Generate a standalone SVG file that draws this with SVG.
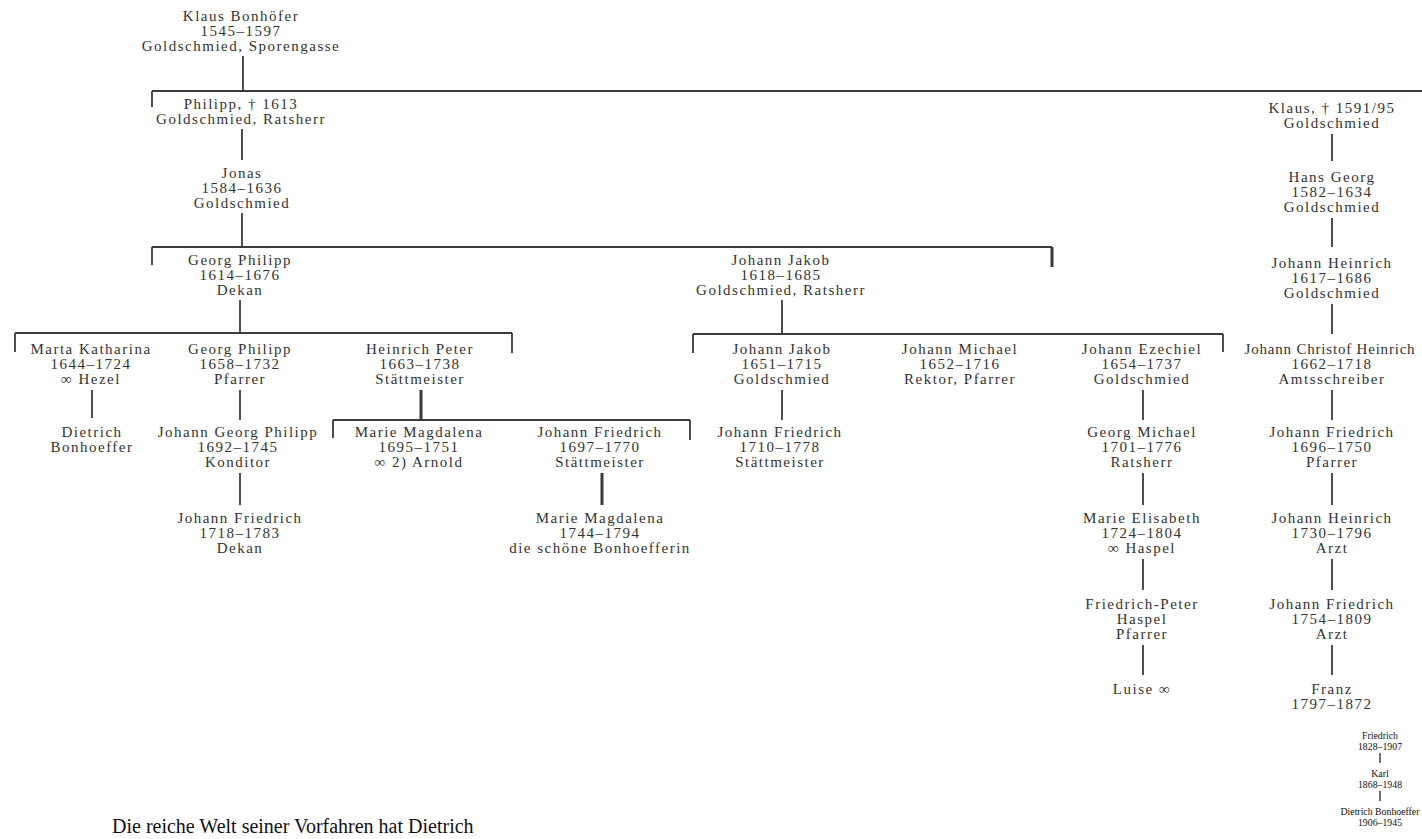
<svg xmlns="http://www.w3.org/2000/svg" width="1422" height="839" viewBox="0 0 1422 839">
<style>
.n text{font-family:"Liberation Serif","Times New Roman",serif;font-size:15px;letter-spacing:1.5px;fill:#333;text-anchor:middle}
.s text{font-family:"Liberation Serif","Times New Roman",serif;font-size:9.8px;fill:#111;text-anchor:middle}
#connectors line{stroke:#3a3a3a;stroke-width:1.8}
#connectors .t{stroke-width:3}
#connectors .s1{stroke:#111;stroke-width:1.2}
.cap{font-family:"Liberation Serif","Times New Roman",serif;font-size:20px;fill:#111}
</style>
<rect width="1422" height="839" fill="#fff"/>
<g id="connectors">
<line x1="243" y1="56" x2="243" y2="91"/>
<line x1="152" y1="91" x2="1422" y2="91"/>
<line x1="152" y1="91" x2="152" y2="107"/>
<line x1="242" y1="129" x2="242" y2="160"/>
<line x1="242" y1="213" x2="242" y2="247"/>
<line x1="152" y1="247" x2="1052" y2="247"/>
<line x1="152" y1="247" x2="152" y2="265"/>
<line class="t" x1="1052" y1="247" x2="1052" y2="267"/>
<line x1="240" y1="300" x2="240" y2="333"/>
<line x1="15" y1="333" x2="512" y2="333"/>
<line x1="15" y1="333" x2="15" y2="352"/>
<line x1="512" y1="333" x2="512" y2="353"/>
<line x1="92" y1="390" x2="92" y2="418"/>
<line x1="240" y1="390" x2="240" y2="420"/>
<line x1="240" y1="473" x2="240" y2="505"/>
<line class="t" x1="421" y1="390" x2="421" y2="420"/>
<line x1="333" y1="420" x2="690" y2="420"/>
<line x1="333" y1="420" x2="333" y2="438"/>
<line x1="690" y1="420" x2="690" y2="440"/>
<line class="t" x1="602" y1="473" x2="602" y2="505"/>
<line x1="782" y1="300" x2="782" y2="334"/>
<line x1="693" y1="334" x2="1223" y2="334"/>
<line x1="693" y1="334" x2="693" y2="353"/>
<line x1="1223" y1="334" x2="1223" y2="352"/>
<line x1="782" y1="390" x2="782" y2="420"/>
<line x1="1143" y1="390" x2="1143" y2="420"/>
<line x1="1143" y1="473" x2="1143" y2="505"/>
<line x1="1143" y1="559" x2="1143" y2="590"/>
<line x1="1143" y1="645" x2="1143" y2="675"/>
<line x1="1332" y1="134" x2="1332" y2="161"/>
<line x1="1332" y1="218" x2="1332" y2="247"/>
<line x1="1332" y1="304" x2="1332" y2="334"/>
<line x1="1332" y1="390" x2="1332" y2="420"/>
<line x1="1332" y1="473" x2="1332" y2="505"/>
<line x1="1332" y1="559" x2="1332" y2="590"/>
<line x1="1332" y1="645" x2="1332" y2="675"/>
<line class="s1" x1="1380" y1="753" x2="1380" y2="763"/>
<line class="s1" x1="1380" y1="791" x2="1380" y2="801"/>
</g>
<g id="klaus-bonhoefer" class="n"><text x="241" y="21">Klaus Bonhöfer</text><text x="241" y="36">1545–1597</text><text x="241" y="51">Goldschmied, Sporengasse</text></g>
<g id="philipp" class="n"><text x="241" y="109">Philipp, † 1613</text><text x="241" y="124">Goldschmied, Ratsherr</text></g>
<g id="jonas" class="n"><text x="242" y="178">Jonas</text><text x="242" y="193">1584–1636</text><text x="242" y="208">Goldschmied</text></g>
<g id="georg-philipp-1614" class="n"><text x="240" y="265">Georg Philipp</text><text x="240" y="280">1614–1676</text><text x="240" y="295">Dekan</text></g>
<g id="johann-jakob-1618" class="n"><text x="781" y="265">Johann Jakob</text><text x="781" y="280">1618–1685</text><text x="781" y="295">Goldschmied, Ratsherr</text></g>
<g id="marta-katharina" class="n"><text x="91" y="354">Marta Katharina</text><text x="91" y="369">1644–1724</text><text x="91" y="384">∞ Hezel</text></g>
<g id="georg-philipp-1658" class="n"><text x="240" y="354">Georg Philipp</text><text x="240" y="369">1658–1732</text><text x="240" y="384">Pfarrer</text></g>
<g id="heinrich-peter" class="n"><text x="420" y="354">Heinrich Peter</text><text x="420" y="369">1663–1738</text><text x="420" y="384">Stättmeister</text></g>
<g id="dietrich-bonhoeffer-left" class="n"><text x="92" y="437">Dietrich</text><text x="92" y="452">Bonhoeffer</text></g>
<g id="johann-georg-philipp" class="n"><text x="238" y="437">Johann Georg Philipp</text><text x="238" y="452">1692–1745</text><text x="238" y="467">Konditor</text></g>
<g id="johann-friedrich-1718" class="n"><text x="240" y="523">Johann Friedrich</text><text x="240" y="538">1718–1783</text><text x="240" y="553">Dekan</text></g>
<g id="marie-magdalena-1695" class="n"><text x="419" y="437">Marie Magdalena</text><text x="419" y="452">1695–1751</text><text x="419" y="467">∞ 2) Arnold</text></g>
<g id="johann-friedrich-1697" class="n"><text x="600" y="437">Johann Friedrich</text><text x="600" y="452">1697–1770</text><text x="600" y="467">Stättmeister</text></g>
<g id="marie-magdalena-1744" class="n"><text x="600" y="523">Marie Magdalena</text><text x="600" y="538">1744–1794</text><text x="600" y="553">die schöne Bonhoefferin</text></g>
<g id="johann-jakob-1651" class="n"><text x="782" y="354">Johann Jakob</text><text x="782" y="369">1651–1715</text><text x="782" y="384">Goldschmied</text></g>
<g id="johann-friedrich-1710" class="n"><text x="780" y="437">Johann Friedrich</text><text x="780" y="452">1710–1778</text><text x="780" y="467">Stättmeister</text></g>
<g id="johann-michael" class="n"><text x="960" y="354">Johann Michael</text><text x="960" y="369">1652–1716</text><text x="960" y="384">Rektor, Pfarrer</text></g>
<g id="johann-ezechiel" class="n"><text x="1142" y="354">Johann Ezechiel</text><text x="1142" y="369">1654–1737</text><text x="1142" y="384">Goldschmied</text></g>
<g id="georg-michael" class="n"><text x="1142" y="437">Georg Michael</text><text x="1142" y="452">1701–1776</text><text x="1142" y="467">Ratsherr</text></g>
<g id="marie-elisabeth" class="n"><text x="1142" y="523">Marie Elisabeth</text><text x="1142" y="538">1724–1804</text><text x="1142" y="553">∞ Haspel</text></g>
<g id="friedrich-peter-haspel" class="n"><text x="1142" y="609">Friedrich-Peter</text><text x="1142" y="624">Haspel</text><text x="1142" y="639">Pfarrer</text></g>
<g id="luise" class="n"><text x="1142" y="694">Luise ∞</text></g>
<g id="klaus-1591" class="n"><text x="1332" y="113">Klaus, † 1591/95</text><text x="1332" y="128">Goldschmied</text></g>
<g id="hans-georg" class="n"><text x="1332" y="182">Hans Georg</text><text x="1332" y="197">1582–1634</text><text x="1332" y="212">Goldschmied</text></g>
<g id="johann-heinrich-1617" class="n"><text x="1332" y="268">Johann Heinrich</text><text x="1332" y="283">1617–1686</text><text x="1332" y="298">Goldschmied</text></g>
<g id="johann-christof-heinrich" class="n"><text x="1330" y="354" style="letter-spacing:0.8px">Johann Christof Heinrich</text><text x="1332" y="369">1662–1718</text><text x="1332" y="384">Amtsschreiber</text></g>
<g id="johann-friedrich-1696" class="n"><text x="1332" y="437">Johann Friedrich</text><text x="1332" y="452">1696–1750</text><text x="1332" y="467">Pfarrer</text></g>
<g id="johann-heinrich-1730" class="n"><text x="1332" y="523">Johann Heinrich</text><text x="1332" y="538">1730–1796</text><text x="1332" y="553">Arzt</text></g>
<g id="johann-friedrich-1754" class="n"><text x="1332" y="609">Johann Friedrich</text><text x="1332" y="624">1754–1809</text><text x="1332" y="639">Arzt</text></g>
<g id="franz" class="n"><text x="1332" y="694">Franz</text><text x="1332" y="709">1797–1872</text></g>
<g id="friedrich-1828" class="s"><text x="1380" y="739">Friedrich</text><text x="1380" y="750">1828–1907</text></g>
<g id="karl" class="s"><text x="1380" y="777">Karl</text><text x="1380" y="788">1868–1948</text></g>
<g id="dietrich-bonhoeffer" class="s"><text x="1380" y="815">Dietrich Bonhoeffer</text><text x="1380" y="826">1906–1945</text></g>
<text class="cap" x="112" y="833">Die reiche Welt seiner Vorfahren hat Dietrich</text>
</svg>
